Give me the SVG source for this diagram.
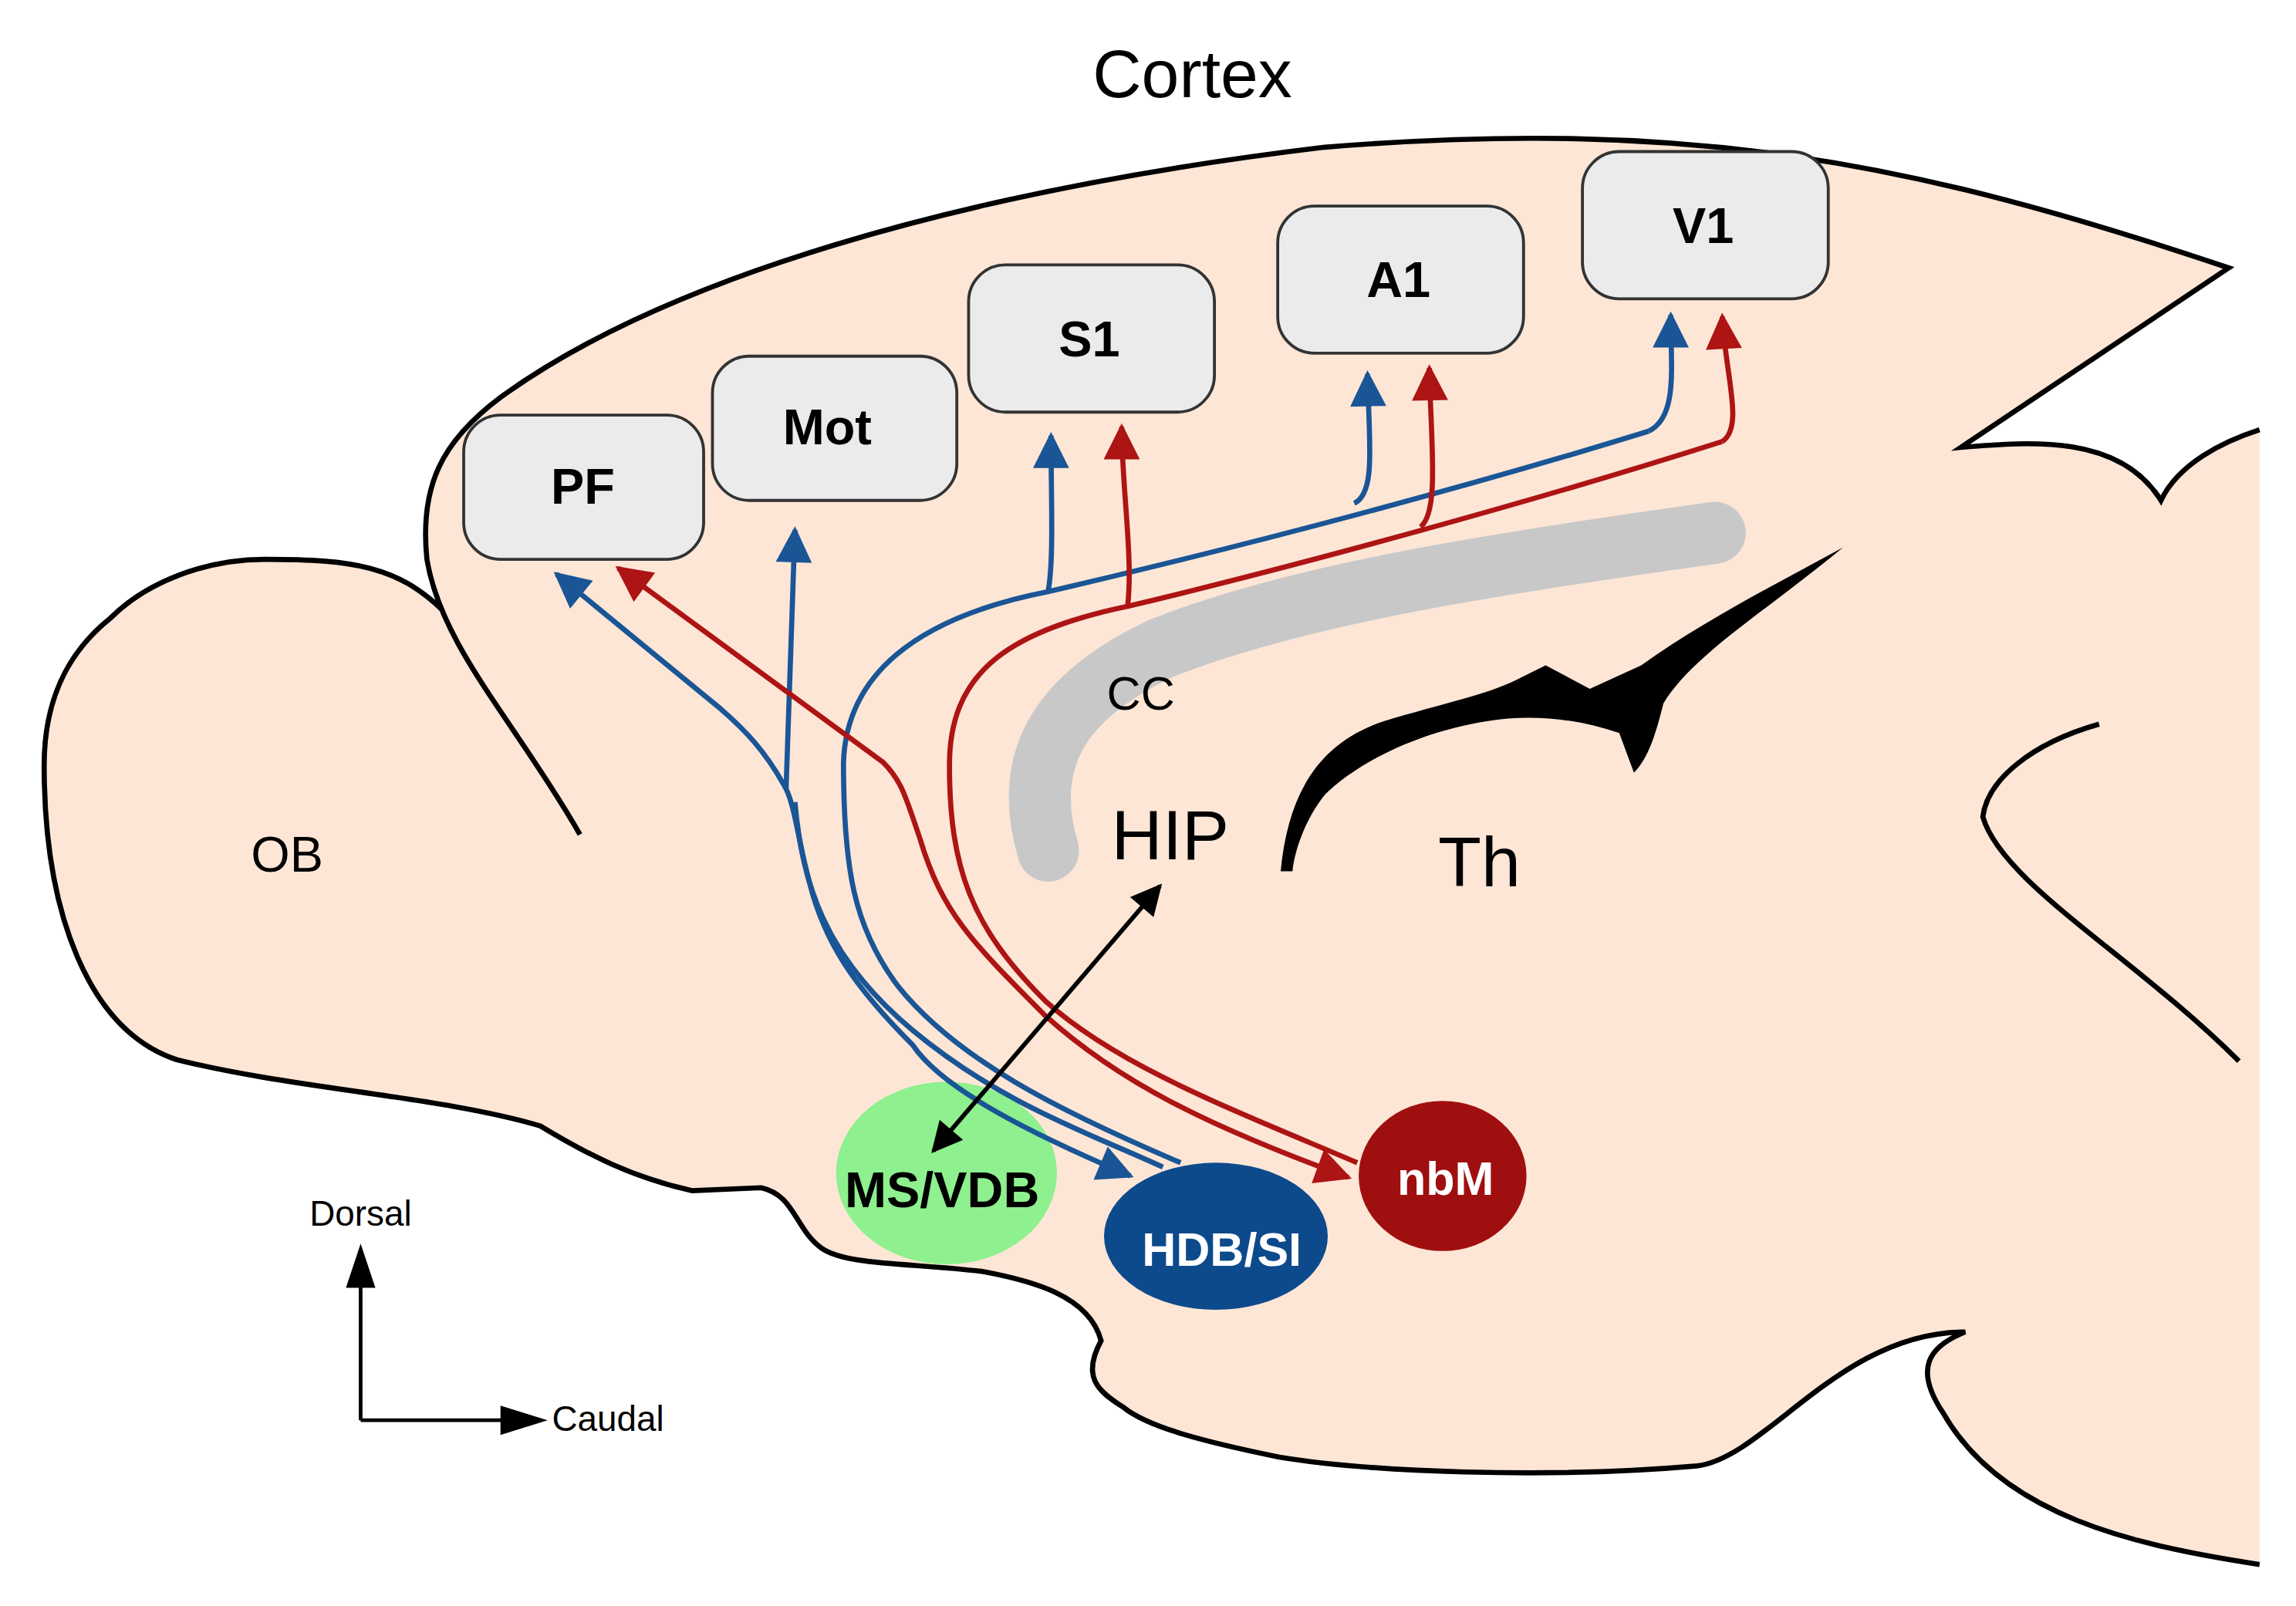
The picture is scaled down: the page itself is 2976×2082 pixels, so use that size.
<svg xmlns="http://www.w3.org/2000/svg" width="2976" height="2082" viewBox="0 0 2976 2082">
<style>
.t{font-family:"Liberation Sans",Arial,sans-serif;text-anchor:middle}
.box{fill:#ebebeb;stroke:#333;stroke-width:2}
.bl{fill:none;stroke:#1a5596;stroke-width:3.5}
.rd{fill:none;stroke:#ad1414;stroke-width:3.5}
.ol{fill:none;stroke:#000;stroke-width:3.5}
</style>
<defs>
<marker id="hb" viewBox="0 0 10 10" refX="9" refY="5" markerWidth="7.5" markerHeight="7" orient="auto-start-reverse" markerUnits="strokeWidth"><path d="M0,0 L10,5 L0,10 z" fill="#1a5596"/></marker>
<marker id="hr" viewBox="0 0 10 10" refX="9" refY="5" markerWidth="7.5" markerHeight="7" orient="auto-start-reverse" markerUnits="strokeWidth"><path d="M0,0 L10,5 L0,10 z" fill="#ad1414"/></marker>
<marker id="hk" viewBox="0 0 10 10" refX="9" refY="5" markerWidth="7.5" markerHeight="7" orient="auto-start-reverse" markerUnits="strokeWidth"><path d="M0,0 L10,5 L0,10 z" fill="#000"/></marker>
</defs>
<rect width="2976" height="2082" fill="#fff"/>
<g transform="scale(1.908)">
<g id="brain">
<path d="M300,414 C295,400 288,390 290,380 C285,330 300,300 340,270 C450,190 650,130 900,100 C1150,80 1300,110 1514,182 L1332,304 C1380,300 1440,295 1468,340 C1480,315 1510,300 1535,292 L1535,1063 C1450,1050 1360,1030 1320,960 C1300,930 1310,915 1335,905 C1250,905 1200,990 1153,996 C1050,1005 930,1000 869,990 C820,980 780,970 763,956 C745,945 735,935 748,911 C740,880 700,870 668,864 C620,858 575,860 558,848 C540,835 540,812 517,807 L470,809 C430,800 400,785 367,765 C300,745 200,740 120,720 C60,700 30,620 30,520 C30,470 50,440 75,420 C100,395 140,380 180,380 C240,380 270,385 300,414 Z" fill="#fde6d6"/>
<path class="ol" d="M394,567 C350,490 300,440 290,380 C285,330 300,300 340,270 C450,190 650,130 900,100 C1150,80 1300,110 1514,182 L1332,304 C1380,300 1440,295 1468,340 C1480,315 1510,300 1535,292"/>
<path class="ol" d="M1535,1063 C1450,1050 1360,1030 1320,960 C1300,930 1310,915 1335,905 C1250,905 1200,990 1153,996 C1050,1005 930,1000 869,990 C820,980 780,970 763,956 C745,945 735,935 748,911 C740,880 700,870 668,864 C620,858 575,860 558,848 C540,835 540,812 517,807 L470,809 C430,800 400,785 367,765 C300,745 200,740 120,720 C60,700 30,620 30,520 C30,470 50,440 75,420 C100,395 140,380 180,380 C240,380 270,385 300,414"/>
<path class="ol" d="M1426,492 C1380,505 1350,530 1347,555 C1360,600 1450,650 1521,721"/>
<path d="M712,578 C695,520 715,475 790,440 C880,405 1000,385 1165,362" fill="none" stroke="#c8c8c8" stroke-width="42" stroke-linecap="round"/>
<path d="M870,592 C875,540 895,505 940,490 C980,478 1010,472 1030,462 L1050,452 L1080,468 L1115,452 C1160,420 1210,395 1252,372 C1200,415 1150,445 1130,478 C1125,498 1120,515 1110,525 L1100,498 C1070,488 1040,485 1010,490 C960,498 920,520 900,540 C888,555 880,575 878,592 Z" fill="#000"/>
</g>
<text class="t" x="810" y="66" font-size="46">Cortex</text>
<text class="t" x="195" y="592" font-size="34">OB</text>
<text class="t" x="775" y="482" font-size="32">CC</text>
<text class="t" x="795" y="584" font-size="48">HIP</text>
<text class="t" x="1005" y="602" font-size="48">Th</text>
<g id="PF"><rect class="box" x="315" y="282" width="163" height="98" rx="25"/><text class="t" x="396" y="342" font-size="34" font-weight="bold">PF</text></g>
<g id="Mot"><rect class="box" x="484" y="242" width="166" height="98" rx="25"/><text class="t" x="562" y="302" font-size="34" font-weight="bold">Mot</text></g>
<g id="S1"><rect class="box" x="658" y="180" width="167" height="100" rx="25"/><text class="t" x="740" y="242" font-size="34" font-weight="bold">S1</text></g>
<g id="A1"><rect class="box" x="868" y="140" width="167" height="100" rx="25"/><text class="t" x="950" y="202" font-size="34" font-weight="bold">A1</text></g>
<g id="V1"><rect class="box" x="1075" y="103" width="167" height="100" rx="25"/><text class="t" x="1157" y="165" font-size="34" font-weight="bold">V1</text></g>
<g id="MSVDB"><ellipse cx="643" cy="797" rx="75" ry="62" fill="#8ef08e"/><text class="t" x="640" y="820" font-size="34" font-weight="bold">MS/VDB</text></g>
<g id="HDBSI"><ellipse cx="826" cy="840" rx="76" ry="50" fill="#0d4a8c"/><text class="t" x="830" y="860" font-size="32" font-weight="bold" fill="#fff">HDB/SI</text></g>
<g id="nbM"><ellipse cx="980" cy="799" rx="57" ry="51" fill="#a00f0f"/><text class="t" x="982" y="812" font-size="32" font-weight="bold" fill="#fff">nbM</text></g>
<g id="connectors">
<path class="bl" marker-start="url(#hb)" marker-end="url(#hb)" d="M768,799 C700,770 640,740 620,710 C580,670 560,640 550,600 C542,570 540,548 534,536 C520,510 505,495 490,482 L378,390"/>
<path class="bl" marker-end="url(#hb)" d="M534,536 L540,360"/>
<path class="bl" d="M540,545 C545,600 560,650 620,700 C680,750 740,770 790,793"/>
<path class="bl" marker-end="url(#hb)" d="M802,790 C720,755 650,720 610,670 C580,630 573,590 573,518 C575,460 620,420 712,402 C716,380 714,340 714,296"/>
<path class="bl" d="M712,402 C850,370 1000,330 1120,293"/>
<path class="bl" marker-end="url(#hb)" d="M1120,293 C1140,283 1135,250 1135,214"/>
<path class="bl" marker-end="url(#hb)" d="M920,342 C935,335 930,300 929,254"/>
<path class="rd" marker-start="url(#hr)" marker-end="url(#hr)" d="M916,800 C820,765 760,735 710,690 C660,640 640,620 625,570 C615,540 612,530 600,518 L420,386"/>
<path class="rd" marker-end="url(#hr)" d="M922,790 C840,755 760,725 710,680 C660,630 645,590 645,520 C645,460 680,430 766,412 C770,380 762,330 762,290"/>
<path class="rd" d="M766,412 C900,380 1060,335 1170,300"/>
<path class="rd" marker-end="url(#hr)" d="M1170,300 C1185,290 1172,255 1170,215"/>
<path class="rd" marker-end="url(#hr)" d="M965,358 C978,348 972,300 971,250"/>
<path marker-start="url(#hk)" marker-end="url(#hk)" d="M634,782 L788,602" stroke="#000" stroke-width="3" fill="none"/>
<path d="M245,965 L245,852 M245,965 L360,965" stroke="#000" stroke-width="2.5" fill="none"/>
<path d="M235,875 L245,845 L255,875 Z M340,955 L372,965 L340,975 Z" fill="#000"/>
</g>
<text class="t" x="245" y="833" font-size="24">Dorsal</text>
<text x="375" y="972" font-size="24" font-family="Liberation Sans,Arial,sans-serif">Caudal</text>
</g>
</svg>
